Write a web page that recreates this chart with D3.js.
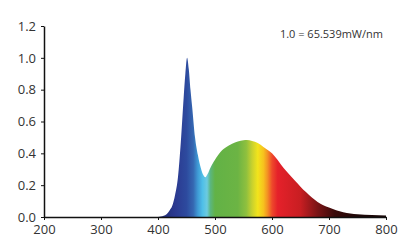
<!DOCTYPE html>
<html lang="en">
<head>
    <meta charset="UTF-8">
    <title>Spectrum</title>
    <script src="https://d3js.org/d3.v7.min.js"></script>
    <style>
        body { margin: 0; background: #fff; }
        text { font-family: "Open Sans", sans-serif; fill: #333; }
    </style>
</head>
<body>
    <script>
        // wavelength (nm) and relative power
        var wavelengths = [200, 400, 405, 410, 415, 420, 425, 430, 435, 440, 445, 448, 451, 454, 457, 460, 465, 470, 475, 480, 483, 487, 492, 500, 510, 520, 530, 540, 550, 556, 565, 575, 585, 600, 620, 640, 660, 680, 700, 725, 750, 775, 800];
        var power = [0, 0, 0.003, 0.008, 0.018, 0.04, 0.07, 0.14, 0.25, 0.47, 0.75, 0.9, 1.0, 0.93, 0.8, 0.69, 0.5, 0.39, 0.31, 0.26, 0.25, 0.27, 0.31, 0.36, 0.41, 0.44, 0.46, 0.475, 0.482, 0.483, 0.478, 0.465, 0.44, 0.40, 0.31, 0.23, 0.155, 0.095, 0.06, 0.03, 0.017, 0.012, 0.009];

        var xTicks = [200, 300, 400, 500, 600, 700, 800];
        var yTicks = [0, 0.2, 0.4, 0.6, 0.8, 1.0, 1.2];

        // colour of the fill along the wavelength axis
        var stopNm = [400, 430, 450, 462, 470, 478, 486, 492, 500, 540, 555, 565, 575, 585, 592, 600, 610, 650, 680, 710, 750, 800];
        var stopColor = ["#1e2a6e", "#2b3990", "#2d4a9e", "#3568b2", "#3f9bd6", "#4fbfe8", "#6ccbe0", "#5bb680", "#62b246", "#6cb444", "#8fc03e", "#c8d12e", "#f2e41c", "#f7c21e", "#f39223", "#ee4a2b", "#e5212a", "#c81e22", "#7a1416", "#3a0a0a", "#1e0808", "#1a0808"];

        var width = 401, height = 247;
        var margin = {top: 26, right: 15, bottom: 30, left: 44};

        var svg = d3.select("body").append("svg")
            .attr("width", width)
            .attr("height", height);

        var x = d3.scaleLinear().domain([200, 800]).range([margin.left, width - margin.right]);
        var y = d3.scaleLinear().domain([0, 1.2]).range([height - margin.bottom, margin.top]);

        var data = wavelengths.map(function(w, i) { return {w: w, v: power[i]}; });

        var grad = svg.append("defs").append("linearGradient")
            .attr("id", "spec")
            .attr("gradientUnits", "userSpaceOnUse")
            .attr("x1", x(200)).attr("x2", x(800))
            .attr("y1", 0).attr("y2", 0);
        grad.selectAll("stop")
            .data(stopNm)
            .enter().append("stop")
            .attr("offset", function(d) { return (d - 200) / 600; })
            .attr("stop-color", function(d, i) { return stopColor[i]; });

        var area = d3.area()
            .x(function(d) { return x(d.w); })
            .y0(y(0))
            .y1(function(d) { return y(d.v); })
            .curve(d3.curveMonotoneX);

        svg.append("path")
            .datum(data)
            .attr("d", area)
            .attr("fill", "url(#spec)");

        svg.append("g")
            .attr("transform", "translate(0," + y(0) + ")")
            .call(d3.axisBottom(x).tickValues(xTicks).tickSize(3).tickSizeOuter(0).tickPadding(5));

        svg.append("g")
            .attr("transform", "translate(" + margin.left + ",0)")
            .call(d3.axisLeft(y).tickValues(yTicks).tickSize(3).tickSizeOuter(0).tickPadding(5)
                .tickFormat(d3.format(".1f")));

        svg.selectAll(".domain").attr("stroke", "#111").attr("stroke-width", 1.5);
        svg.selectAll(".tick line").attr("stroke", "#111");
        svg.selectAll(".tick text").style("font-size", "13px").style("font-family", "'Open Sans', sans-serif").attr("fill", "#333");

        svg.append("text")
            .attr("x", 383)
            .attr("y", 38)
            .attr("text-anchor", "end")
            .style("font-size", "11px")
            .text("1.0 = 65.539mW/nm");
    </script>
</body>
</html>
